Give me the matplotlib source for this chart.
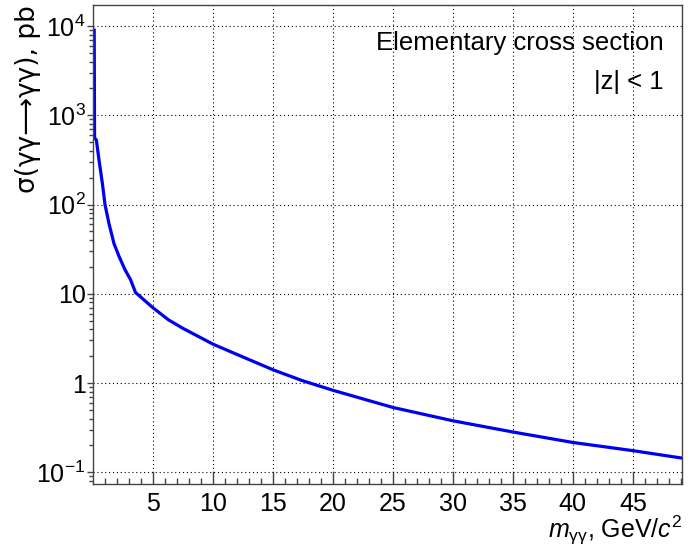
import matplotlib
matplotlib.use('Agg')
import matplotlib.pyplot as plt
from matplotlib.ticker import FixedLocator, LogLocator, NullFormatter

plt.rcParams['font.family'] = ['Liberation Sans', 'DejaVu Sans']
plt.rcParams['mathtext.fontset'] = 'custom'
plt.rcParams['mathtext.rm'] = 'Liberation Sans'
plt.rcParams['mathtext.it'] = 'Liberation Sans:italic'
plt.rcParams['mathtext.bf'] = 'Liberation Sans:bold'

# diphoton invariant mass (GeV/c^2) and elementary cross section (pb), |z| < 1
mass = [0.10, 0.13, 0.28, 0.50, 0.78, 1.00, 1.33, 1.75, 2.17, 2.67, 3.13,
        3.55, 3.67, 5.0, 6.3, 7.5, 10.0, 11.9, 15.0, 17.4, 20.0, 25.0,
        30.0, 35.0, 40.0, 45.0, 49.0]
sigma = [9000, 560, 528, 316, 173, 100, 61.3, 36.5, 26.3, 18.6, 14.4,
         10.3, 10.0, 6.97, 5.1, 4.1, 2.73, 2.12, 1.41, 1.07, 0.83, 0.533,
         0.378, 0.283, 0.216, 0.175, 0.145]

xticks = [5, 10, 15, 20, 25, 30, 35, 40, 45]
yticks = [0.1, 1, 10, 100, 1000, 10000]
ylabels = [r'$\mathregular{10^{-1}}$', '1', '10', r'$\mathregular{10^{2}}$',
           r'$\mathregular{10^{3}}$', r'$\mathregular{10^{4}}$']

fig = plt.figure(figsize=(6.97, 5.51), dpi=100)
ax = fig.add_axes([93/697, 1 - 484/551, 589/697, 479/551])

ax.plot(mass, sigma, color='#0000f0', lw=2.3)

ax.set_yscale('log')
ax.set_xlim(0, 49.1)
ax.set_ylim(0.074, 17200)

ax.xaxis.set_major_locator(FixedLocator(xticks))
ax.xaxis.set_minor_locator(FixedLocator(range(1, 50)))
ax.set_yticks(yticks)
ax.set_yticklabels(ylabels)
ax.yaxis.set_minor_locator(LogLocator(base=10, subs=range(2, 10)))
ax.yaxis.set_minor_formatter(NullFormatter())

ax.tick_params(axis='x', which='major', direction='in', length=8.5, width=1,
               labelsize=18, pad=6, color='#444444')
ax.tick_params(axis='x', which='minor', direction='in', length=4.5, width=1,
               color='#444444')
ax.tick_params(axis='y', which='major', direction='out', length=4.3, width=1,
               labelsize=18, pad=1, color='#444444')
ax.tick_params(axis='y', which='minor', direction='out', length=2.6, width=1,
               color='#444444')

ax.grid(True, which='major', color='black', lw=0.8, linestyle=(0, (1, 2.5)))
for s in ax.spines.values():
    s.set_color('#444444')
    s.set_linewidth(1.0)

ax.text((664 - 93) / 589, 1 - (50 - 5) / 479, 'Elementary cross section',
        transform=ax.transAxes, ha='right', va='baseline', fontsize=18.5)
ax.text((664 - 93) / 589, 1 - (89 - 5) / 479, '|z| < 1',
        transform=ax.transAxes, ha='right', va='baseline', fontsize=18.5)

fig.text(682/697, 1 - 538/551, r'$m_{\mathregular{\gamma\gamma}}$, GeV/$c^{\mathregular{2}}$',
         ha='right', va='baseline', fontsize=18)
# wider face for the greek letters of the y title
fig.text(28/697, 1 - 5/551, 'σ(γγ⟶γγ), pb', family=['DejaVu Sans'],
         rotation=90, ha='center', va='top', fontsize=19)

fig.savefig('out.png', dpi=100)
